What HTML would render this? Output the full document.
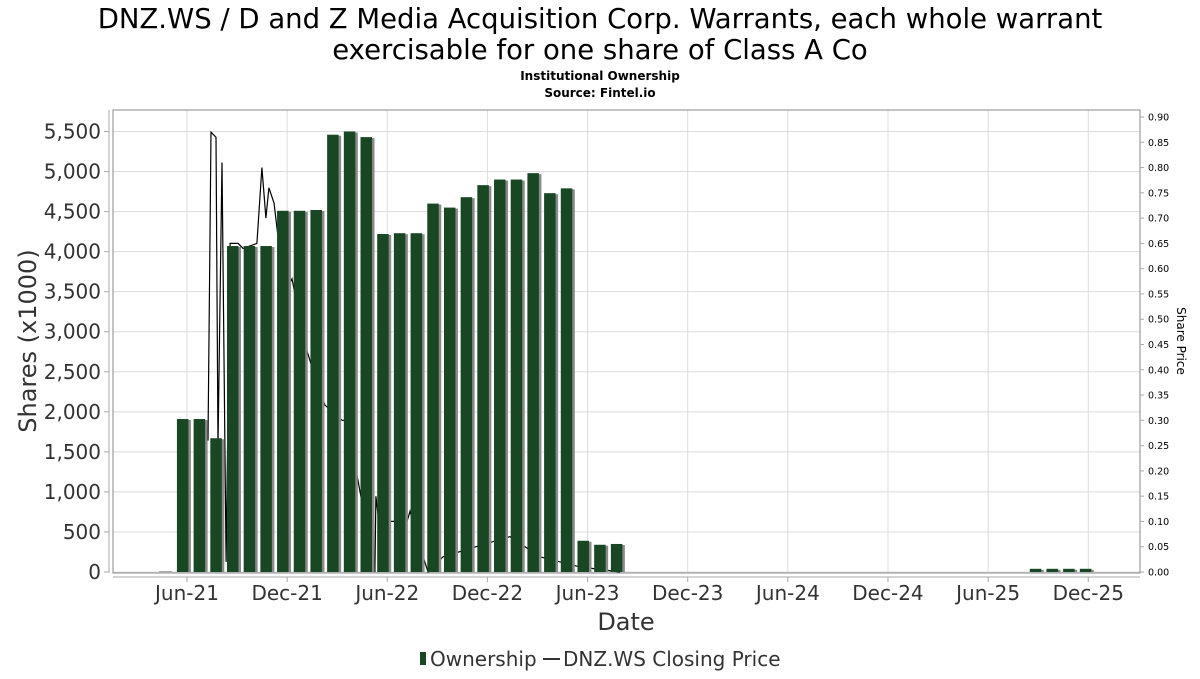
<!DOCTYPE html>
<html><head><meta charset="utf-8"><style>
body{margin:0;background:#fff;font-family:"DejaVu Sans","Liberation Sans",sans-serif;}
svg text{font-family:"DejaVu Sans","Liberation Sans",sans-serif;}
</style></head><body>
<svg id="chart" width="1200" height="675" viewBox="0 0 1200 675" xmlns="http://www.w3.org/2000/svg">
<text x="600" y="28" text-anchor="middle" font-size="27.5" fill="#000">DNZ.WS / D and Z Media Acquisition Corp. Warrants, each whole warrant</text>
<text x="600" y="59" text-anchor="middle" font-size="27.5" fill="#000">exercisable for one share of Class A Co</text>
<text x="600" y="80" text-anchor="middle" font-size="12" font-weight="bold" fill="#000">Institutional Ownership</text>
<text x="600" y="97" text-anchor="middle" font-size="12" font-weight="bold" fill="#000">Source: Fintel.io</text>
<g id="grid"></g>
<g id="price"></g>
<g id="bars"></g>
<rect x="113" y="110" width="1027" height="463" fill="none" stroke="#888" stroke-width="1"/>
<line x1="109" y1="110" x2="109" y2="573" stroke="#aaa"/>
<line x1="113" y1="577" x2="1140" y2="577" stroke="#aaa"/>
<g id="axes"></g>
<text transform="translate(36,341) rotate(-90)" text-anchor="middle" font-size="24" fill="#333">Shares (x1000)</text>
<text transform="translate(1177,341) rotate(90)" text-anchor="middle" font-size="12" fill="#000">Share Price</text>
<text x="626" y="630" text-anchor="middle" font-size="24" fill="#333">Date</text>
<g>
<rect x="420" y="652" width="6" height="13" fill="#1a4723"/>
<text x="430" y="666" font-size="20" fill="#333">Ownership</text>
<line x1="543" y1="659" x2="560" y2="659" stroke="#333" stroke-width="2"/>
<text x="563" y="666" font-size="20" fill="#333">DNZ.WS Closing Price</text>
</g>
</svg>
<script>
const barDates = ["2021-05-24","2021-06-24","2021-07-24","2021-08-24","2021-09-24","2021-10-24","2021-11-24","2021-12-24","2022-01-24","2022-02-24","2022-03-24","2022-04-24","2022-05-24","2022-06-24","2022-07-24","2022-08-24","2022-09-24","2022-10-24","2022-11-24","2022-12-24","2023-01-24","2023-02-24","2023-03-24","2023-04-24","2023-05-24","2023-06-24","2023-07-24","2025-08-27","2025-09-27","2025-10-27","2025-11-27"];
const barValues = [1910,1910,1670,4070,4070,4070,4510,4510,4520,5460,5500,5430,4220,4230,4230,4600,4550,4680,4830,4900,4900,4980,4730,4790,390,340,350,40,40,40,40];
// price series: x in months since Jan 2021
const priceMonths = [6.26,6.44,6.74,6.86,7.10,7.34,7.58,8.06,8.36,9.19,9.49,9.73,9.91,10.21,10.39,10.87,11.29,12.07,12.73,13.27,14.29,14.47,15.25,15.96,16.26,16.32,16.56,17.16,18.18,18.36,18.96,19.44,20.34,22.32,23.33,24.35,26.15,28.55,30.94];
const priceValues = [0.26,0.87,0.86,0.25,0.81,0.02,0.65,0.65,0.64,0.65,0.80,0.70,0.76,0.73,0.68,0.55,0.58,0.45,0.38,0.33,0.30,0.30,0.18,0.05,0.00,0.15,0.08,0.10,0.10,0.12,0.05,0.00,0.03,0.05,0.06,0.07,0.03,0.01,0.00];
const yTicks = [0,500,1000,1500,2000,2500,3000,3500,4000,4500,5000,5500];
const y2Ticks = [0,0.05,0.10,0.15,0.20,0.25,0.30,0.35,0.40,0.45,0.50,0.55,0.60,0.65,0.70,0.75,0.80,0.85,0.90];
const xTickLabels = ["Jun-21","Dec-21","Jun-22","Dec-22","Jun-23","Dec-23","Jun-24","Dec-24","Jun-25","Dec-25"];
const xTickMonths = [5,11,17,23,29,35,41,47,53,59];

const NS="http://www.w3.org/2000/svg";
const xM = m => 187 + (m-5)*16.69;
const yS = v => 572 - v*(440.5/5500);
const yP = p => 572 - p*(455/0.9);
function dateToMonth(s){const [y,m,d]=s.split("-").map(Number);return (y-2021)*12+(m-1)+(d-1)/30.44;}
function mk(tag,attrs,parent){const e=document.createElementNS(NS,tag);for(const k in attrs)e.setAttribute(k,attrs[k]);parent.appendChild(e);return e;}
const grid=document.getElementById('grid'),axes=document.getElementById('axes');
yTicks.forEach(v=>{
  const y=yS(v);
  const g=mk('line',{x1:113,x2:1140,y1:y,y2:y,stroke:'#ddd'},grid);
  
  
  const t=mk('line',{x1:104,x2:109,y1:y,y2:y,stroke:'#aaa'},axes);
  
  
  const l=mk('text',{x:101,y:y+7,'text-anchor':'end','font-size':20,fill:'#333'},axes);
  l.textContent=v.toLocaleString('en-US');
  
  
});
y2Ticks.forEach(v=>{
  const y=yP(v);
  const t=mk('line',{x1:1140,x2:1144,y1:y,y2:y,stroke:'#aaa'},axes);
  
  
  const l=mk('text',{x:1148,y:y+3.5,'font-size':9.5,fill:'#000'},axes);
  l.textContent=v.toFixed(2);
  
  
});
xTickMonths.forEach((m,i)=>{
  const x=xM(m);
  const g=mk('line',{x1:x,x2:x,y1:110,y2:573,stroke:'#ddd'},grid);
  
  
  const t=mk('line',{x1:x,x2:x,y1:577,y2:582,stroke:'#aaa'},axes);
  
  
  const l=mk('text',{x:x,y:600,'text-anchor':'middle','font-size':20,fill:'#333'},axes);
  l.textContent=xTickLabels[i];
  
  
});
const pl=mk('polyline',{points:priceMonths.map((m,i)=>xM(m).toFixed(1)+','+yP(priceValues[i]).toFixed(1)).join(' '),fill:'none',stroke:'#000','stroke-width':1.2},document.getElementById('price'));


const bars=document.getElementById('bars');
const z=mk('line',{x1:159,x2:172,y1:571.5,y2:571.5,stroke:'#aaa'},bars);


barDates.forEach((d,i)=>{
  const cx=xM(dateToMonth(d)), y=yS(barValues[i]), h=572-y;
  const s=mk('rect',{x:cx-3,y:y+1,width:11,height:h-1,fill:'#8a8a8a'},bars);
  
  
  const b=mk('rect',{x:cx-6,y:y,width:11.5,height:h,fill:'#1a4723'},bars);
  
  
});
</script>
</body></html>
